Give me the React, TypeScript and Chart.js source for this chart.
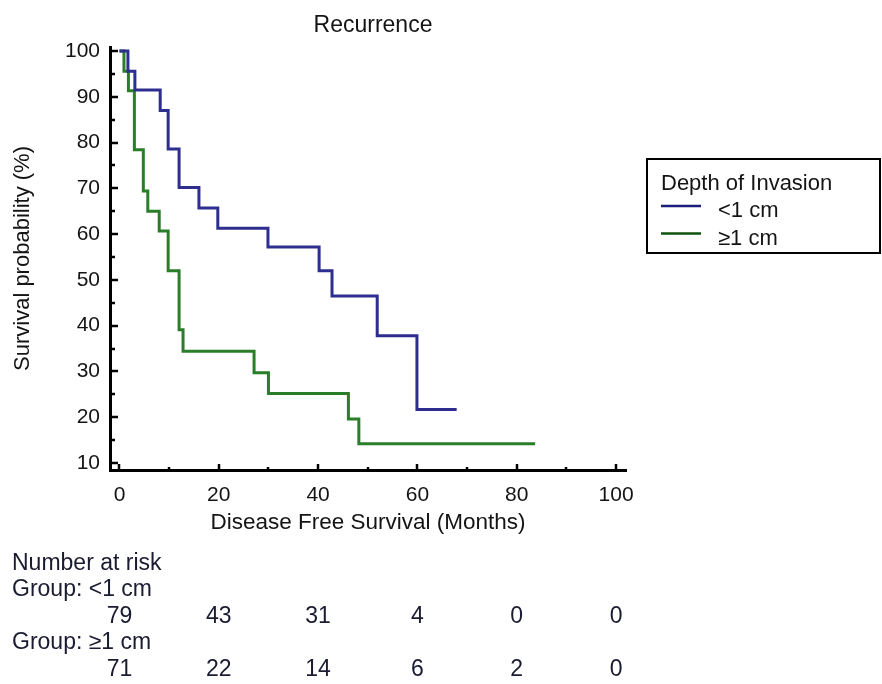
import React, { useEffect, useRef } from "react";
import { Chart, registerables } from "chart.js";

Chart.register(...registerables);

// ---- Data ----
const lessTimes = [0, 1.7, 3.1, 8.2, 9.8, 12.0, 16.0, 19.8, 29.9, 40.2, 42.8, 51.9, 59.9, 67.9];
const lessSurv = [100, 95.6, 91.5, 87.0, 78.6, 70.2, 65.7, 61.3, 57.2, 52.0, 46.5, 37.8, 21.7, 21.7];

const moreTimes = [0, 0.9, 1.8, 3.0, 4.8, 5.7, 8.0, 9.8, 12.0, 12.8, 27.1, 30.0, 46.1, 48.2, 83.7];
const moreSurv = [100, 95.6, 91.3, 78.4, 69.4, 65.0, 60.7, 52.0, 39.1, 34.4, 29.7, 25.2, 19.6, 14.2, 14.2];

const xTickValues = [0, 20, 40, 60, 80, 100];
const xMinorTickValues = [10, 30, 50, 70, 90];
const yTickValues = [10, 20, 30, 40, 50, 60, 70, 80, 90, 100];
const yMinorTickValues = [15, 25, 35, 45, 55, 65, 75, 85, 95];

const riskTimes = [0, 20, 40, 60, 80, 100];
const riskLess = [79, 43, 31, 4, 0, 0];
const riskMore = [71, 22, 14, 6, 2, 0];

const groupLabels = ["<1 cm", "≥1 cm"];
const lineColors = ["#2e2e90", "#2a7e2a"];
const legendColors = ["#1c1c7c", "#0e520e"];

const FONT = "'Liberation Sans', Arial, Helvetica, sans-serif";
const TEXT = "#141414";

const decorPlugin = {
  id: "decor",
  afterDraw(chart: any) {
    const ctx = chart.ctx;
    const xs = chart.scales.x;
    const ys = chart.scales.y;
    const area = chart.chartArea;
    ctx.save();
    // inward tick marks
    ctx.strokeStyle = "#000";
    ctx.lineWidth = 2.5;
    const xt = (v: number, len: number) => {
      const px = Math.round(xs.getPixelForValue(v));
      ctx.beginPath();
      ctx.moveTo(px, area.bottom);
      ctx.lineTo(px, area.bottom - len);
      ctx.stroke();
    };
    xTickValues.forEach((v) => xt(v, 6));
    xMinorTickValues.forEach((v) => xt(v, 3));
    const yt = (v: number, len: number) => {
      const py = Math.round(ys.getPixelForValue(v));
      ctx.beginPath();
      ctx.moveTo(area.left, py);
      ctx.lineTo(area.left + len, py);
      ctx.stroke();
    };
    yTickValues.forEach((v) => yt(v, 8));
    yMinorTickValues.forEach((v) => yt(v, 5));

    // title
    ctx.fillStyle = TEXT;
    ctx.font = `23px ${FONT}`;
    ctx.textAlign = "center";
    ctx.textBaseline = "alphabetic";
    ctx.fillText("Recurrence", 373, 32);

    // legend
    ctx.font = `22px ${FONT}`;
    ctx.lineWidth = 2;
    ctx.strokeStyle = "#000";
    ctx.strokeRect(647, 159, 233, 94);
    ctx.textAlign = "left";
    ctx.fillText("Depth of Invasion", 661, 190);
    chart.data.datasets.forEach((ds: any, i: number) => {
      const y = 206 + i * 27.5;
      ctx.strokeStyle = legendColors[i];
      ctx.lineWidth = 2.5;
      ctx.beginPath();
      ctx.moveTo(661, y);
      ctx.lineTo(701, y);
      ctx.stroke();
      ctx.fillStyle = TEXT;
      ctx.fillText(ds.label, 718, y + 11);
    });

    // number at risk table
    ctx.font = `23px ${FONT}`;
    ctx.fillStyle = "#1a1a30";
    ctx.textAlign = "left";
    ctx.fillText("Number at risk", 12, 570);
    ctx.fillText("Group: " + groupLabels[0], 12, 596);
    ctx.fillText("Group: " + groupLabels[1], 12, 649);
    ctx.textAlign = "center";
    riskTimes.forEach((t, i) => {
      const px = xs.getPixelForValue(t);
      ctx.fillText(String(riskLess[i]), px, 623);
      ctx.fillText(String(riskMore[i]), px, 676);
    });
    ctx.restore();
  },
};

export default function App() {
  const ref = useRef<HTMLCanvasElement | null>(null);
  useEffect(() => {
    document.body.style.margin = "0";
    const canvas = ref.current!;
    const chart = new Chart(canvas, {
      type: "line",
      data: {
        datasets: [
          {
            label: groupLabels[0],
            data: lessTimes.map((t, i) => ({ x: t, y: lessSurv[i] })),
            borderColor: lineColors[0],
            borderWidth: 3,
            pointRadius: 0,
            stepped: "before",
            fill: false,
          },
          {
            label: groupLabels[1],
            data: moreTimes.map((t, i) => ({ x: t, y: moreSurv[i] })),
            borderColor: lineColors[1],
            borderWidth: 3,
            pointRadius: 0,
            stepped: "before",
            fill: false,
          },
        ],
      },
      options: {
        animation: false,
        responsive: false,
        devicePixelRatio: 1,
        events: [],
        layout: { padding: { left: 0, top: 47, right: 256, bottom: 144 } },
        plugins: {
          legend: { display: false },
          title: { display: false },
          tooltip: { enabled: false },
        },
        scales: {
          x: {
            type: "linear",
            min: -1.91,
            max: 102,
            afterBuildTicks: (s: any) => {
              s.ticks = xTickValues.map((v) => ({ value: v }));
            },
            afterFit: (s: any) => {
              s.height = 70;
            },
            grid: { display: false, drawTicks: false },
            border: { display: true, color: "#000", width: 3 },
            ticks: {
              padding: 13,
              color: TEXT,
              font: { family: FONT, size: 21 },
              maxRotation: 0,
              autoSkip: false,
            },
            title: {
              display: true,
              text: "Disease Free Survival (Months)",
              color: TEXT,
              font: { family: FONT, size: 22.5 },
              padding: { top: 0, bottom: 4 },
            },
          },
          y: {
            type: "linear",
            min: 8.47,
            max: 100.87,
            afterBuildTicks: (s: any) => {
              s.ticks = yTickValues.map((v) => ({ value: v }));
            },
            afterFit: (s: any) => {
              s.width = 110;
            },
            grid: { display: false, drawTicks: false },
            border: { display: true, color: "#000", width: 3 },
            ticks: {
              padding: 10,
              color: TEXT,
              font: { family: FONT, size: 21 },
              autoSkip: false,
            },
            title: {
              display: true,
              text: "Survival probability (%)",
              color: TEXT,
              font: { family: FONT, size: 22 },
              padding: { top: 10, bottom: 0 },
            },
          },
        },
      },
      plugins: [decorPlugin],
    } as any);
    return () => chart.destroy();
  }, []);
  return (
    <canvas
      ref={ref}
      width={882}
      height={684}
      style={{ display: "block", width: 882, height: 684 }}
    />
  );
}
